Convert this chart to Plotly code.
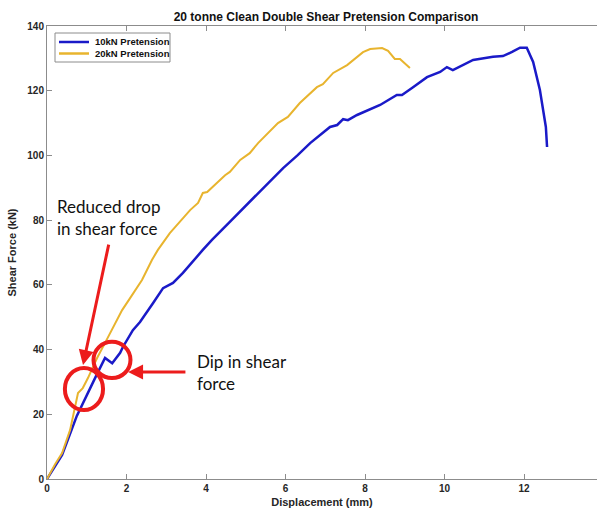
import plotly.graph_objects as go

# Measured shear force vs displacement for the two pretension levels
disp_10kn = [0, 0.2, 0.38, 0.75, 1.0, 1.26, 1.46, 1.64, 1.84, 1.91, 2.16, 2.34, 2.67,
             2.92, 3.17, 3.42, 3.92, 4.15, 4.6, 5.1, 5.5, 5.94, 6.3, 6.62, 7.12, 7.3,
             7.45, 7.57, 7.8, 8.38, 8.8, 8.93, 9.2, 9.56, 9.89, 10.06, 10.21, 10.72,
             11.22, 11.47, 11.7, 11.9, 12.07, 12.23, 12.4, 12.55, 12.58]
force_10kn = [0, 4, 7.4, 19.5, 26, 32.5, 37.4, 35.8, 39, 40.8, 46, 48.5, 54.4,
              59, 60.6, 63.7, 70.8, 73.9, 79.5, 85.6, 90.5, 96.1, 100, 103.8, 108.8, 109.4,
              111.2, 110.9, 112.5, 115.6, 118.7, 118.7, 121, 124.2, 125.8, 127.3, 126.4, 129.5,
              130.5, 130.7, 132, 133.3, 133.3, 128.9, 120.2, 108.8, 102.6]

disp_20kn = [0, 0.2, 0.38, 0.58, 0.78, 0.9, 1.03, 1.26, 1.5, 1.89, 2.09, 2.39, 2.64,
             2.79, 3.09, 3.6, 3.8, 3.92, 4.03, 4.28, 4.48, 4.6, 4.86, 5.1, 5.31, 5.81,
             6.06, 6.36, 6.79, 6.94, 7.2, 7.55, 7.95, 8.13, 8.43, 8.58, 8.75, 8.88, 9.13]
force_20kn = [0, 4.5, 8, 15.1, 26.6, 28.1, 31.2, 37.4, 43, 52.2, 55.9, 61.5, 67.7,
              70.8, 76, 83.1, 85.3, 88.4, 88.7, 91.5, 93.9, 94.9, 98.6, 100.7, 103.8, 110,
              111.9, 116.2, 121.1, 122, 125.5, 127.9, 131.9, 132.9, 133.2, 132.3, 129.8, 129.8, 127]

series_names = ["10kN Pretension", "20kN Pretension"]
x_ticks = [0, 2, 4, 6, 8, 10, 12]
y_ticks = [0, 20, 40, 60, 80, 100, 120, 140]

BLUE = "#1A1AC8"
GOLD = "#E8B42E"
RED = "#EC1C1C"
AXIS = "#8C8C8C"
TXT = "#262626"
FONT = "Liberation Sans"
NOTE_FONT = "Lato"

# plot area in pixels (for placing the compact legend box)
L, R, T, B = 47, 597, 26, 479
def px_x(px):
    return (px - L) / (R - L)
def px_y(py):
    return (B - py) / (B - T)

fig = go.Figure()
colors = [BLUE, GOLD]
widths = [2.5, 2]
for xs, ys, name, c, w in zip([disp_10kn, disp_20kn], [force_10kn, force_20kn],
                              series_names, colors, widths):
    fig.add_trace(go.Scatter(x=xs, y=ys, mode="lines", name=name,
                             line=dict(color=c, width=w), showlegend=False))

# Compact boxed legend in the upper left corner
fig.add_shape(type="rect", xref="paper", yref="paper",
              x0=px_x(55), x1=px_x(170), y0=px_y(62), y1=px_y(33),
              line=dict(color=AXIS, width=1), fillcolor="white")
for i, (name, c) in enumerate(zip(series_names, colors)):
    yy = px_y(42 + 11.5 * i)
    fig.add_shape(type="line", xref="paper", yref="paper",
                  x0=px_x(59), x1=px_x(89), y0=yy, y1=yy,
                  line=dict(color=c, width=2.5))
    fig.add_annotation(x=px_x(93), y=yy, xref="paper", yref="paper",
                       xanchor="left", yanchor="middle", showarrow=False,
                       text=f"<b>{name}</b>",
                       font=dict(family=FONT, size=9.5, color="#111111"))

# Highlight circles around the features of interest
fig.add_shape(type="circle", xref="x", yref="y", x0=0.93 - 0.48, x1=0.93 + 0.48,
              y0=27.8 - 6.5, y1=27.8 + 6.5, line=dict(color=RED, width=4))
fig.add_shape(type="circle", xref="x", yref="y", x0=1.635 - 0.465, x1=1.635 + 0.465,
              y0=36.8 - 5.6, y1=36.8 + 5.6, line=dict(color=RED, width=4))

# Arrows pointing at the circles
fig.add_annotation(x=0.906, y=35.2, ax=1.56, ay=72.9, xref="x", yref="y", axref="x", ayref="y",
                   text="", showarrow=True, arrowhead=2, arrowsize=1, arrowwidth=3, arrowcolor=RED)
fig.add_annotation(x=2.04, y=33.1, ax=3.52, ay=33.1, xref="x", yref="y", axref="x", ayref="y",
                   text="", showarrow=True, arrowhead=2, arrowsize=1, arrowwidth=3, arrowcolor=RED)

fig.add_annotation(x=0.2, y=80.7, xref="x", yref="y", xanchor="left", yanchor="middle",
                   text="Reduced drop<br>in shear force", showarrow=False, align="left",
                   font=dict(family=NOTE_FONT, size=17, color="#111111"))
fig.add_annotation(x=3.72, y=32.8, xref="x", yref="y", xanchor="left", yanchor="middle",
                   text="Dip in shear<br>force", showarrow=False, align="left",
                   font=dict(family=NOTE_FONT, size=17, color="#111111"))

fig.update_layout(
    width=597, height=509,
    margin=dict(l=47, r=0, t=26, b=30),
    paper_bgcolor="white", plot_bgcolor="white",
    font=dict(family=FONT, color=TXT),
    title=dict(text="<b>20 tonne Clean Double Shear Pretension Comparison</b>",
               xref="container", x=326 / 597, xanchor="center",
               yref="container", y=1 - 17 / 509, yanchor="middle",
               font=dict(family=FONT, size=12, color="#111111")),
    showlegend=False,
)

fig.update_xaxes(range=[0, 550 / 39.75], tickvals=x_ticks, ticktext=[f"<b>{v}</b>" for v in x_ticks],
                 showgrid=False, zeroline=False, showline=True, linecolor=AXIS, linewidth=1,
                 mirror="ticks", ticks="inside", ticklen=5, tickcolor=AXIS,
                 tickfont=dict(family=FONT, size=10, color=TXT),
                 title=dict(text="<b>Displacement (mm)</b>", standoff=5,
                            font=dict(family=FONT, size=11, color=TXT)))
fig.update_yaxes(range=[0, 140], tickvals=y_ticks, ticktext=[f"<b>{v}</b>" for v in y_ticks],
                 showgrid=False, zeroline=False, showline=True, linecolor=AXIS, linewidth=1,
                 ticks="inside", ticklen=5, tickcolor=AXIS,
                 tickfont=dict(family=FONT, size=10, color=TXT),
                 title=dict(text="<b>Shear Force (kN)</b>", standoff=8,
                            font=dict(family=FONT, size=11, color=TXT)))

fig.write_html("out.html")
